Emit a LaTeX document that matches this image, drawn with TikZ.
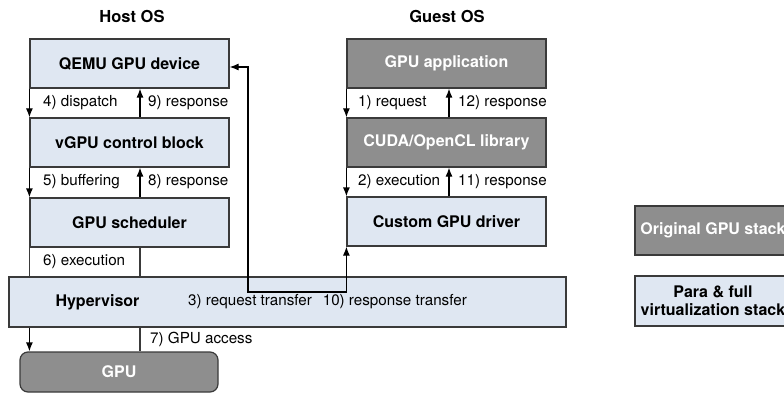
\documentclass[tikz,border=0pt]{standalone}
\usepackage{fontspec}
\setmainfont{TeX Gyre Heros}
\usetikzlibrary{arrows.meta}
\definecolor{virt}{HTML}{DFE7F2}
\definecolor{orig}{HTML}{8E8E8E}
\definecolor{edge}{HTML}{3A3A3A}

\begin{document}
\begin{tikzpicture} [x=1pt,y=-1pt,
  stack/.style={shape=rectangle,draw=edge,line width=1.2pt,minimum width=199pt,minimum height=49pt,inner sep=0,font=\fontsize{16}{18}\selectfont\bfseries},
  virtbox/.style={stack,fill=virt},
  origbox/.style={stack,fill=orig,text=white},
  lbl/.style={anchor=west,inner sep=0,font=\fontsize{15.2}{17}\selectfont},
  title/.style={inner sep=0,font=\fontsize{16.5}{18}\selectfont\bfseries},
  link/.style={draw=edge,line width=1.2pt},
  call/.style={draw=black,line width=1.2pt,-{Latex[length=9pt,width=7pt]}}]
  \useasboundingbox (0,0) rectangle (784,393);
  \clip (0,0) rectangle (784,393);
  % Titles
  \node[title] (hostos)  at (132,16) {Host OS};
  \node[title] (guestos) at (447,16) {Guest OS};
  % Host OS
  \node[virtbox] (qemu)  at (129.5,63.5)  {QEMU GPU device};
  \node[virtbox] (vgpu)  at (129.5,142.5) {vGPU control block};
  \node[virtbox] (sched) at (129.5,222.5) {GPU scheduler};
  % Guest OS
  \node[origbox] (app)  at (446.5,63.5)  {GPU application};
  \node[origbox] (cuda) at (446.5,142.5) {CUDA/OpenCL library};
  \node[virtbox] (drv)  at (446.5,221.5) {Custom GPU driver};
  % Hypervisor and GPU
  \node[virtbox,minimum width=557pt,minimum height=50pt] (hyper) at (287.5,302) { };
  \node[font=\fontsize{16}{18}\selectfont\bfseries] (hypername) at (97.5,302) {Hypervisor};
  \node[origbox,minimum width=198pt,minimum height=40pt,rounded corners=8pt] (gpu) at (119,372) {GPU};
  % Legend
  \node[origbox,minimum width=156pt] (legorig) at (713,230.5) {Original GPU stack};
  \node[virtbox,minimum width=156pt,minimum height=50pt,align=center] (legvirt) at (713,301) {Para \& full\\virtualization stack};

  \coordinate (hostup)  at (140,0);
  \coordinate (guestup) at (449,0);
  \coordinate (bend)    at (248,292);
  % Host OS calls
  \draw[call] (qemu.south west) -- (vgpu.north west);
  \draw[call] (vgpu.north -| hostup) -- (qemu.south -| hostup);
  \draw[call] (vgpu.south west) -- (sched.north west);
  \draw[call] (sched.north -| hostup) -- (vgpu.south -| hostup);
  \draw[link] (sched.south west) -- (sched.south west |- hyper.north);
  \draw[link] (sched.south -| hostup) -- (hyper.north -| hostup);
  \draw[call] (sched.west |- hyper.south) -- (sched.west |- gpu.north);
  \draw[link] (hyper.south -| hostup) -- (gpu.north -| hostup);
  % Guest OS calls
  \draw[call] (app.south west) -- (cuda.north west);
  \draw[call] (cuda.north -| guestup) -- (app.south -| guestup);
  \draw[call] (cuda.south west) -- (drv.north west);
  \draw[call] (drv.north -| guestup) -- (cuda.south -| guestup);
  % Transfer through the hypervisor
  \draw[call,{Latex[length=9pt,width=7pt]}-{Latex[length=9pt,width=7pt]}] ([yshift=-3.5pt]qemu.east) -| (bend) -| (drv.south west);

  % Labels
  \node[lbl] (l4)  at (43,103)  {4) dispatch};
  \node[lbl] (l9)  at (148,103) {9) response};
  \node[lbl] (l5)  at (43,182)  {5) buffering};
  \node[lbl] (l8)  at (148,182) {8) response};
  \node[lbl] (l6)  at (43,262)  {6) execution};
  \node[lbl] (l7)  at (150,339) {7) GPU access};
  \node[lbl] (l1)  at (358,103) {1) request};
  \node[lbl] (l12) at (458,103) {12) response};
  \node[lbl] (l2)  at (358,182) {2) execution};
  \node[lbl] (l11) at (458,182) {11) response};
  \node[lbl] (l3)  at (188,302) {3) request transfer};
  \node[lbl,anchor=east] (l10) at (467,302) {10) response transfer};
\end{tikzpicture}
\end{document}
